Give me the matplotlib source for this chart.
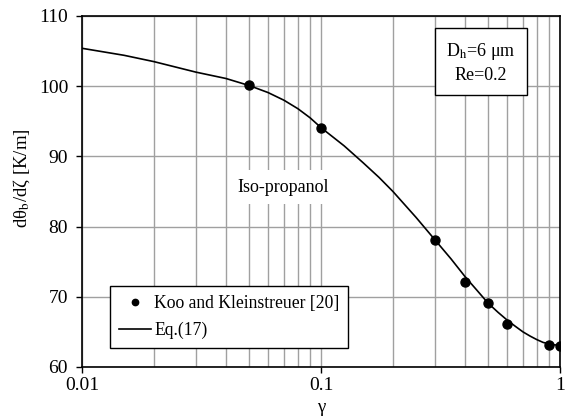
import numpy as np
import matplotlib
matplotlib.use('Agg')
import matplotlib.pyplot as plt
from matplotlib.ticker import LogLocator, NullFormatter

plt.rcParams['font.family'] = ['Liberation Serif', 'DejaVu Serif']
plt.rcParams['mathtext.fontset'] = 'stix'

# datos de Koo y Kleinstreuer
gamma_pts = [0.05, 0.1, 0.3, 0.4, 0.5, 0.6, 0.9, 1.0]
dtheta_pts = [100.1, 94.1, 78.1, 72.1, 69.1, 66.1, 63.1, 63.0]

# curva Eq.(17)
gamma_eq = [0.01, 0.015, 0.02, 0.03, 0.04, 0.05, 0.06, 0.07, 0.08, 0.09, 0.1,
            0.125, 0.15, 0.175, 0.2, 0.25, 0.3, 0.35, 0.4, 0.45, 0.5, 0.55, 0.6,
            0.65, 0.7, 0.75, 0.8, 0.85, 0.9, 0.95, 1.0]
dtheta_eq = [105.4, 104.4, 103.5, 102.0, 101.1, 100.1, 99.1, 98.0, 96.8, 95.5, 94.1,
             91.5, 89.1, 87.0, 85.0, 81.3, 78.1, 75.4, 72.9, 70.9, 69.1, 67.8, 66.7,
             65.8, 65.0, 64.4, 63.9, 63.5, 63.3, 63.15, 63.1]

fig = plt.figure(figsize=(5.68, 4.2), dpi=100)
ax = fig.add_axes([82/568, 53/420, 478/568, 351/420])

ax.plot(gamma_eq, dtheta_eq, color='black', lw=1.2, label='Eq.(17)', zorder=3)
ax.plot(gamma_pts, dtheta_pts, 'o', color='black', ms=6.5, label='Koo and Kleinstreuer [20]', zorder=4)

ax.set_xscale('log')
ax.set_xlim(0.01, 1)
ax.set_ylim(60, 110)
ax.set_xticks([0.01, 0.1, 1])
ax.set_xticklabels(['0.01', '0.1', '1'])
ax.xaxis.set_minor_locator(LogLocator(base=10, subs=np.arange(2, 10)))
ax.xaxis.set_minor_formatter(NullFormatter())
ax.set_yticks(np.arange(60, 111, 10))

ax.grid(True, which='both', axis='x', color='#a0a0a0', lw=1)
ax.grid(True, which='major', axis='y', color='#a0a0a0', lw=1)
ax.tick_params(axis='both', which='major', direction='out', length=4, width=1, labelsize=14, colors='black')
ax.tick_params(axis='y', which='major', pad=6)
ax.tick_params(axis='x', which='minor', length=0)
for s in ax.spines.values():
    s.set_linewidth(1.2)
    s.set_zorder(5)

ax.set_xlabel('γ', fontsize=13.5, labelpad=3)
ax.set_ylabel('dθ$_{\\mathrm{b}}$/dζ [K/m]', fontsize=13.5)
ax.yaxis.set_label_coords(-0.105, 0.537)

handles, labels = ax.get_legend_handles_labels()
leg = ax.legend(handles[::-1], labels[::-1], loc='lower left', bbox_to_anchor=(0.059, 0.054),
                borderaxespad=0, fancybox=False, edgecolor='black', framealpha=1,
                fontsize=12.7, handlelength=1.8, handletextpad=0.2, labelspacing=0.55,
                markerscale=0.7, borderpad=0.5)
leg.get_frame().set_linewidth(1)
leg.set_zorder(6)

ax.text(0.0693, 85.6, 'Iso-propanol', fontsize=13, ha='center', va='center',
        bbox=dict(facecolor='white', edgecolor='none', pad=6), zorder=2)
ax.text(0.467, 103.4, 'D$_{\\mathrm{h}}$=6 μm\nRe=0.2', fontsize=13, ha='center', va='center',
        linespacing=1.4, bbox=dict(facecolor='white', edgecolor='black', pad=8, lw=1), zorder=6)

fig.savefig('out.png', dpi=100)
